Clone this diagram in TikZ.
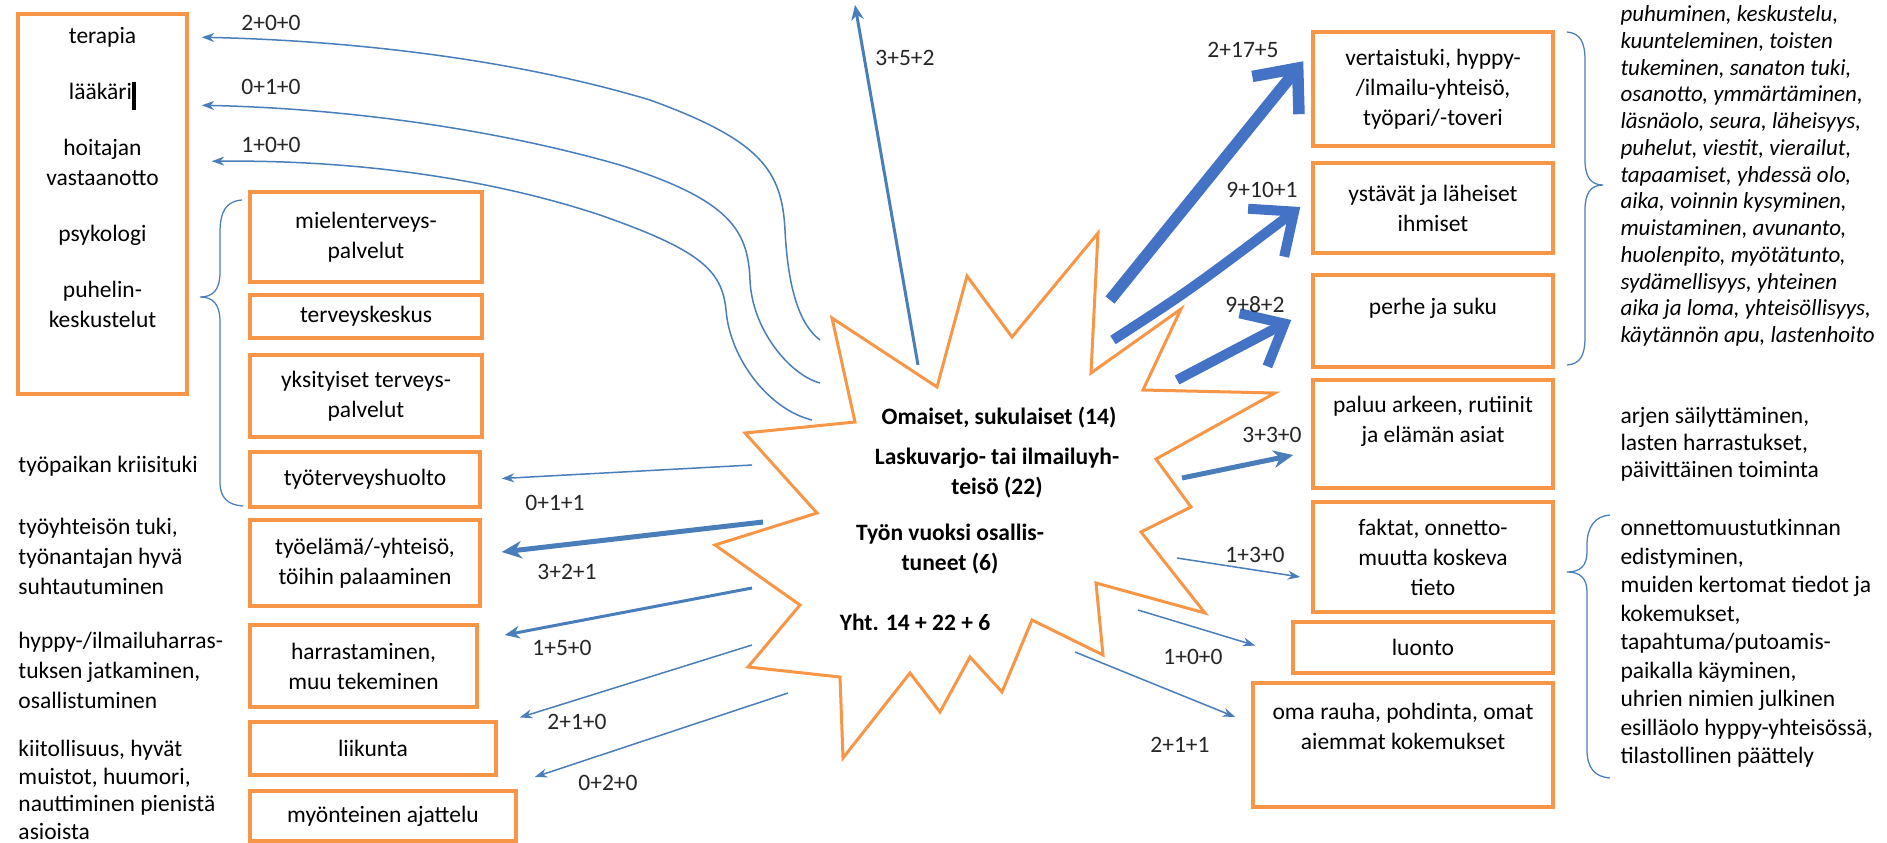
\documentclass[tikz,border=0pt]{standalone}
\usepackage{fontspec}
\setmainfont{Carlito}
\usetikzlibrary{arrows.meta,calc}
\definecolor{boxorange}{HTML}{F79646}
\definecolor{linkblue}{HTML}{4A7EBB}
\definecolor{bigblue}{HTML}{4472C4}
\newcommand{\px}{0.4pt}

\begin{document}
\begin{tikzpicture}
[   x=\px, y=-\px,
    every node/.style={font=\fontsize{9.4}{12}\selectfont, inner sep=0pt},
    box/.style 2 args={draw=boxorange, line width=1.4pt, fill=white, align=center,
        minimum width=#1*\px, minimum height=#2*\px},
    note/.style={align=left, anchor=west},
    centertext/.style={font=\fontsize{9.4}{12}\selectfont\bfseries, align=center},
    numlabel/.style={text=black!85},
    thinarrow/.style={draw=linkblue, line width=0.6pt, -{Stealth[length=5pt,width=3.6pt]}},
    midarrow/.style={draw=linkblue, line width=1.2pt, -{Stealth[length=6pt,width=5pt]}},
    widearrow/.style={draw=linkblue, line width=2pt, -{Stealth[length=8pt,width=7pt]}},
    bigarrow/.style={draw=bigblue, line width=4.6pt, -{Straight Barb[length=14pt,width=24pt]}},
    bracestyle/.style={draw=linkblue, line width=0.5pt}
]
    \useasboundingbox (0,0) rectangle (1887,842);

    % the starburst
    \draw[boxorange, line width=1.2pt, fill=white, line join=miter]
        plot coordinates {(832,318) (937,387) (967,276) (1012,337) (1098,233)
        (1091,373) (1181,309) (1143,390) (1275,393) (1156,459) (1191,507)
        (1141,532) (1205,613) (1096,583) (1103,655) (1032,620) (1002,692)
        (970,657) (940,712) (910,673) (843,758) (840,677) (748,667) (800,605)
        (715,545) (817,513) (745,433) (855,422)} -- cycle;
    \node[centertext] (omaiset) at (999,418) {Omaiset, sukulaiset (14)};
    \node[centertext] (yhteiso) at (997,473) {Laskuvarjo- tai ilmailuyh-\\teisö (22)};
    \node[centertext] (tyon) at (950,549) {Työn vuoksi osallis-\\tuneet (6)};
    \node[centertext] (yht) at (915,622) {Yht. 14 + 22 + 6};

    % left boxes
    \node[box={169}{380}] (hoito) at (102.5,204) {terapia\\[10.4pt]lääkäri\rule[-4pt]{1.6pt}{11pt}\\[10.4pt]hoitajan\\vastaanotto\\[10.4pt]psykologi\\[10.4pt]puhelin-\\keskustelut\\[8.9pt]\mbox{}};
    \node[box={232}{90}] (mielen) at (366,237) {mielenterveys-\\palvelut};
    \node[box={232}{43}] (tk) at (366,316.5) {terveyskeskus};
    \node[box={232}{82}] (yksit) at (366,396) {yksityiset terveys-\\palvelut};
    \node[box={230}{55}] (tyoterv) at (365,479.5) {työterveyshuolto};
    \node[box={230}{86}] (tyoelama) at (365,563) {työelämä/-yhteisö,\\töihin palaaminen};
    \node[box={227}{82}] (harrast) at (363.5,666) {harrastaminen,\\muu tekeminen};
    \node[box={246}{53}] (liikunta) at (373,748.5) {liikunta};
    \node[box={266}{50}] (myont) at (383,816) {myönteinen ajattelu};

    % right boxes
    \node[box={240}{114}] (vert) at (1433,89) {vertaistuki, hyppy-\\/ilmailu-yhteisö,\\työpari/-toveri};
    \node[box={240}{90}] (yst) at (1433,208) {ystävät ja läheiset\\ihmiset};
    \node[box={240}{92}] (perhe) at (1433,321) {perhe ja suku\\\mbox{}};
    \node[box={240}{108}] (paluu) at (1433,434) {paluu arkeen, rutiinit\\ja elämän asiat\\\mbox{}};
    \node[box={240}{110}] (faktat) at (1433,557) {faktat, onnetto-\\muutta koskeva\\tieto};
    \node[box={260}{51}] (luonto) at (1423,647.5) {luonto};
    \node[box={300}{124}] (oma) at (1403,745) {oma rauha, pohdinta, omat\\aiemmat kokemukset\\[3pt]\mbox{}};

    % notes on the left
    \node[note] (kriisi) at (18,466) {työpaikan kriisituki};
    \node[note] (tyoyht) at (18,556) {työyhteisön tuki,\\työnantajan hyvä\\suhtautuminen};
    \node[note] (jatko) at (18,670) {hyppy-/ilmailuharras-\\tuksen jatkaminen,\\osallistuminen};
    \node[note, anchor=north west, font=\fontsize{9.4}{11}\selectfont] (kiitos) at (18,740)
        {kiitollisuus, hyvät\\muistot, huumori,\\nauttiminen pienistä\\asioista};

    % notes on the right
    \node[note, font=\fontsize{9.2}{10.7}\selectfont\itshape] (tukimuodot) at (1620,176)
        {puhuminen, keskustelu,\\kuunteleminen, toisten\\tukeminen, sanaton tuki,\\osanotto, ymmärtäminen,\\läsnäolo, seura, läheisyys,\\puhelut, viestit, vierailut,\\tapaamiset, yhdessä olo,\\aika, voinnin kysyminen,\\muistaminen, avunanto,\\huolenpito, myötätunto,\\sydämellisyys, yhteinen\\aika ja loma, yhteisöllisyys,\\käytännön apu, lastenhoito};
    \node[note, font=\fontsize{9.4}{10.8}\selectfont] (arki) at (1620,444)
        {arjen säilyttäminen,\\lasten harrastukset,\\päivittäinen toiminta};
    \node[note, font=\fontsize{9.4}{11.4}\selectfont] (tieto) at (1620,643.5)
        {onnettomuustutkinnan\\edistyminen,\\muiden kertomat tiedot ja\\kokemukset,\\tapahtuma/putoamis-\\paikalla käyminen,\\uhrien nimien julkinen\\esilläolo hyppy-yhteisössä,\\tilastollinen päättely};

    % braces
    \draw[bracestyle] (242,200) .. controls (226,201) and (220,212) .. (220,232) -- (220,272)
        .. controls (220,290) and (213,297) .. (200,297) .. controls (213,297) and (220,304) .. (220,322)
        -- (220,482) .. controls (220,498) and (228,505) .. (243,506);
    \draw[bracestyle] (1567,32) .. controls (1580,33) and (1585,42) .. (1585,60) -- (1585,160)
        .. controls (1585,177) and (1591,185) .. (1603,185) .. controls (1591,185) and (1585,193) .. (1585,210)
        -- (1585,337) .. controls (1585,356) and (1580,364) .. (1567,365);
    \draw[bracestyle] (1610,515) .. controls (1595,516) and (1587,527) .. (1587,545) -- (1587,552)
        .. controls (1587,566) and (1580,572) .. (1567,572) .. controls (1580,572) and (1587,578) .. (1587,592)
        -- (1587,750) .. controls (1587,768) and (1595,777) .. (1610,778);

    % arrow start points at the star
    \coordinate (c1) at (820,340);
    \coordinate (c2) at (820,383);
    \coordinate (c3) at (812,420);
    \coordinate (t0) at (918,365);
    \coordinate (ylos) at (855,5);
    \coordinate (l1) at (752,465);
    \coordinate (l2) at (763,522);
    \coordinate (l3) at (752,588);
    \coordinate (l4) at (752,645);
    \coordinate (l5) at (788,693);
    \coordinate (r1) at (1110,300);
    \coordinate (r2) at (1113,340);
    \coordinate (r3) at (1177,380);
    \coordinate (r4) at (1182,478);
    \coordinate (r5) at (1177,558);
    \coordinate (r6) at (1138,610);
    \coordinate (r7) at (1075,652);

    % curved arrows to the big box
    \draw[thinarrow] (c1) .. controls (800,325) and (788,290) .. (785,230)
        .. controls (782,170) and (760,140) .. (650,100)
        .. controls (500,55) and (330,40) .. ($(hoito.north east)+(13,25)$);
    \draw[thinarrow] (c2) .. controls (790,375) and (752,330) .. (750,280)
        .. controls (748,230) and (730,200) .. (620,165)
        .. controls (480,125) and (330,108) .. ($(hoito.north east)+(13,93)$);
    \draw[thinarrow] (c3) .. controls (770,410) and (730,360) .. (726,310)
        .. controls (722,270) and (700,250) .. (600,215)
        .. controls (470,172) and (330,160) .. ($(hoito.north east)+(23,149)$);
    \node[numlabel] (n1) at (271,23) {2+0+0};
    \node[numlabel] (n2) at (271,87) {0+1+0};
    \node[numlabel] (n3) at (271,145) {1+0+0};

    % upward arrow
    \draw[midarrow] (t0) -- (ylos);
    \node[numlabel] (n4) at (905,58) {3+5+2};

    % arrows to the left
    \draw[thinarrow] (l1) -- ($(tyoterv.east)+(20,-1)$);
    \draw[widearrow] (l2) -- ($(tyoelama.east)+(20,-11)$);
    \draw[midarrow] (l3) -- ($(harrast.east)+(26,-31)$);
    \draw[thinarrow] (l4) -- ($(liikunta.east)+(22,-31)$);
    \draw[thinarrow] (l5) -- ($(myont.east)+(17,-39)$);
    \node[numlabel] (n5) at (555,503) {0+1+1};
    \node[numlabel] (n6) at (567,572) {3+2+1};
    \node[numlabel] (n7) at (562,648) {1+5+0};
    \node[numlabel] (n8) at (577,722) {2+1+0};
    \node[numlabel] (n9) at (608,783) {0+2+0};

    % arrows to the right
    \draw[bigarrow] (r1) -- ($(vert.north west)+(-8,31)$);
    \draw[bigarrow, line width=4pt] (r2) .. controls (1190,290) .. ($(yst.west)+(-11,-1)$);
    \draw[bigarrow, line width=4pt] (r3) -- ($(perhe.west)+(-20,-1)$);
    \draw[widearrow] (r4) -- ($(paluu.west)+(-18,21)$);
    \draw[thinarrow] (r5) -- ($(faktat.west)+(-11,20)$);
    \draw[thinarrow] (r6) -- ($(luonto.west)+(-36,-2)$);
    \draw[thinarrow] (r7) -- ($(oma.west)+(-16,-28)$);
    \node[numlabel] (n10) at (1243,50) {2+17+5};
    \node[numlabel] (n11) at (1262,190) {9+10+1};
    \node[numlabel] (n12) at (1255,305) {9+8+2};
    \node[numlabel] (n13) at (1272,435) {3+3+0};
    \node[numlabel] (n14) at (1255,555) {1+3+0};
    \node[numlabel] (n15) at (1193,657) {1+0+0};
    \node[numlabel] (n16) at (1180,745) {2+1+1};
\end{tikzpicture}
\end{document}
